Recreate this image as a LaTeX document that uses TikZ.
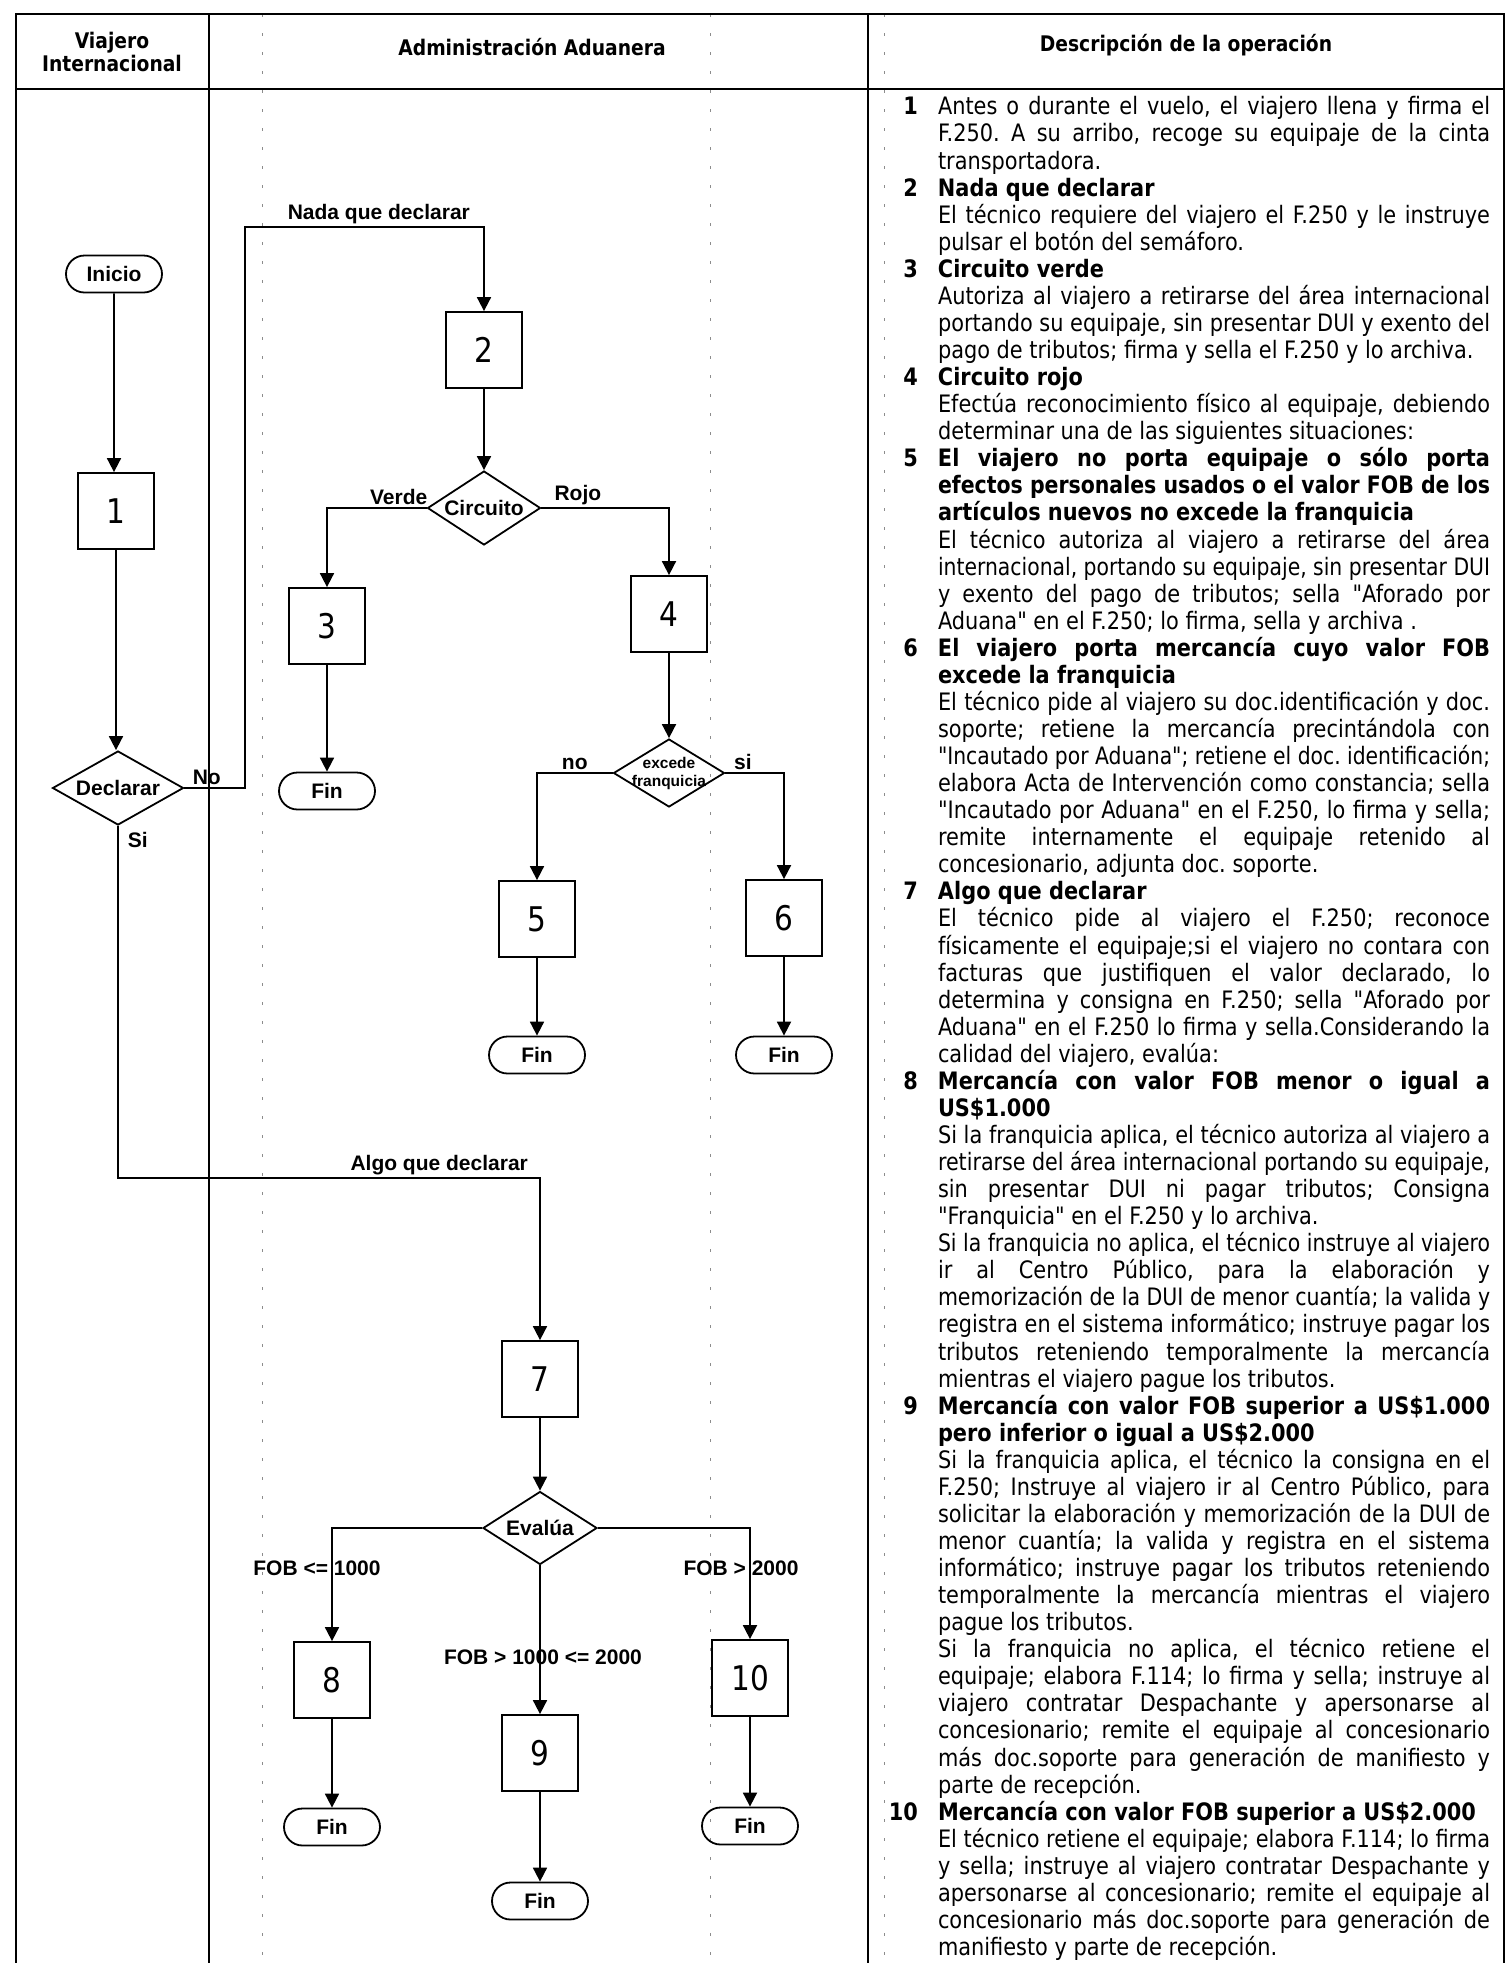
\documentclass[tikz,border=0pt]{standalone}
\usepackage{fontspec}
\setmainfont{DejaVu Sans}[FakeStretch=0.87, Ligatures=TeXOff]
\newfontfamily\arialfont{Liberation Sans}
\usepackage{graphicx}
\usetikzlibrary{positioning,shapes.geometric,shapes.misc,arrows.meta}

\newlength\descw
\setlength\descw{552pt}
\newlength\natw
\newcommand\jline[1]{\settowidth\natw{\spaceskip=0pt\xspaceskip=0pt#1}%
  \ifdim\natw>\descw\resizebox{\descw}{\height}{\spaceskip=0pt\xspaceskip=0pt\strut#1}%
  \else\makebox[\descw][s]{\spaceskip=0pt\xspaceskip=0pt\strut#1}\fi}
\newcommand\lline[1]{\makebox[\descw][l]{\spaceskip=0pt\xspaceskip=0pt\strut#1}}
\newcommand\inum[1]{\llap{\bfseries#1\hspace{20pt}}}
\newcommand\descfont{\fontsize{24}{27.05}\selectfont\frenchspacing\lineskiplimit=-\maxdimen}
\newcommand\headfont{\bfseries\fontsize{21.5}{23}\selectfont}
\newcommand\flowfont{\arialfont\bfseries\fontsize{21}{24}\selectfont}

\begin{document}
\begin{tikzpicture}[x=1pt, y=-1pt,
    marco/.style={line width=2.4pt, line cap=rect},
    guia/.style={line width=0.8pt, black!45, dash pattern=on 3pt off 16pt},
    head/.style={font=\headfont, align=center, inner sep=0pt},
    desc/.style={inner sep=0pt, outer sep=0pt, text width=\descw, align=left, font=\descfont, execute at begin node=\descfont},
    proc/.style={draw, line width=1.8pt, minimum width=76pt, minimum height=76pt, inner sep=0pt, font=\fontsize{34}{40}\selectfont},
    term/.style={draw, line width=1.8pt, rounded rectangle, minimum width=96pt, minimum height=37pt, inner sep=0pt, font=\flowfont},
    dec/.style={draw, line width=1.8pt, diamond, inner sep=0pt, align=center, font=\flowfont},
    conn/.style={line width=1.8pt, -{Triangle[length=14pt,width=14pt]}},
    lab/.style={font=\flowfont, inner sep=2pt}
]
\useasboundingbox (0,0) rectangle (1508,1963);

% lineas guia del formulario
\draw[guia] (262,14) -- (262,1963);
\draw[guia] (710,14) -- (710,1963);
\draw[guia] (884,14) -- (884,1963);

% marco de la tabla
\draw[marco] (16,14) -- (1504,14);
\draw[marco] (16,89) -- (1504,89);
\draw[marco] (16,14) -- (16,1963);
\draw[marco] (209,14) -- (209,1963);
\draw[marco] (868,14) -- (868,1963);
\draw[marco] (1504,14) -- (1504,1963);

% encabezados
\node[head] (hviaj) at (112,52) {Viajero\\Internacional};
\node[head] (hadm) at (532,47) {Administración Aduanera};
\node[head] (hdesc) at (1186,45) {Descripción de la operación};

% viajero internacional
\node[term] (ini) at (114,274) {Inicio};
\node[proc] (p1) at (116,511) {1};
\node[dec, aspect=1.77, minimum width=131pt, minimum height=74pt] (dcl) at (118,788) {Declarar};
\coordinate (nada) at (245,227);
\coordinate (algo) at (300,1178);

% nada que declarar
\node[proc] (p2) at (484,350) {2};
\node[dec, aspect=1.53, minimum width=113pt, minimum height=74pt] (circ) at (484,508) {Circuito};
\node[proc] (p3) at (327,626) {3};
\node[term] (f3) at (327,791) {Fin};
\node[proc] (p4) at (669,614) {4};
\node[dec, aspect=1.63, minimum width=111pt, minimum height=68pt, inner sep=-4pt,
  font=\arialfont\bfseries\fontsize{15.5}{18}\selectfont] (exc) at (669,773) {excede\\franquicia};
\node[proc] (p5) at (537,919) {5};
\node[term] (f5) at (537,1055) {Fin};
\node[proc] (p6) at (784,918) {6};
\node[term] (f6) at (784,1055) {Fin};

% algo que declarar
\node[proc] (p7) at (540,1379) {7};
\node[dec, aspect=1.56, minimum width=114pt, minimum height=73pt] (eva) at (540,1528) {Evalúa};
\node[proc] (p8) at (332,1680) {8};
\node[term] (f8) at (332,1827) {Fin};
\node[proc] (p9) at (540,1753) {9};
\node[term] (f9) at (540,1901) {Fin};
\node[proc] (p10) at (750,1678) {10};
\node[term] (f10) at (750,1826) {Fin};

% conectores
\draw[conn] (ini) -- (ini |- p1.north);
\draw[conn] (p1) -- (p1 |- dcl.north);
\draw[conn] (dcl.east) -| node[lab, pos=0.185, above] {No} (nada)
  -| node[lab, pos=0.28, above] {Nada que declarar} (p2.north);
\draw[conn] (dcl.south) |- node[lab, pos=0.02, anchor=west, xshift=7pt] {Si} (algo)
  -| node[lab, pos=0.29, above] {Algo que declarar} (p7.north);
\draw[conn] (p2) -- (circ);
\draw[conn] (circ.west) -| node[lab, pos=0.14, above] {Verde} (p3.north);
\draw[conn] (circ.east) -| node[lab, pos=0.143, above] {Rojo} (p4.north);
\draw[conn] (p3) -- (f3);
\draw[conn] (p4) -- (exc);
\draw[conn] (exc.west) -| node[lab, pos=0.25, above] {no} (p5.north);
\draw[conn] (exc.east) -| node[lab, pos=0.15, above] {si} (p6.north);
\draw[conn] (p5) -- (f5);
\draw[conn] (p6) -- (f6);
\draw[conn] (p7) -- (eva);
\draw[conn] (eva.west) -| node[lab, pos=0.68, xshift=-15pt] {FOB <= 1000} (p8.north);
\draw[conn] (eva.south) -- node[lab, pos=0.62, xshift=3pt] {FOB > 1000 <= 2000} (p9.north);
\draw[conn] (eva.east) -| node[lab, pos=0.68, xshift=-9pt] {FOB > 2000} (p10.north);
\draw[conn] (p8) -- (f8);
\draw[conn] (p9) -- (f9);
\draw[conn] (p10) -- (f10);

% descripcion de la operacion
\node[desc, anchor=north west] (t1) at (938,96) {%
\jline{\inum{1}Antes o durante el vuelo, el viajero llena y firma el}\\
\jline{F.250. A su arribo, recoge su equipaje de la cinta}\\
\lline{transportadora.}};
\node[desc, below=0pt of t1] (t2) {%
\lline{\inum{2}\bfseries Nada que declarar}\\
\jline{El técnico requiere del viajero el F.250 y le instruye}\\
\lline{pulsar el botón del semáforo.}};
\node[desc, below=0pt of t2] (t3) {%
\lline{\inum{3}\bfseries Circuito verde}\\
\jline{Autoriza al viajero a retirarse del área internacional}\\
\jline{portando su equipaje, sin presentar DUI y exento del}\\
\lline{pago de tributos; firma y sella el F.250 y lo archiva.}};
\node[desc, below=0pt of t3] (t4) {%
\lline{\inum{4}\bfseries Circuito rojo}\\
\jline{Efectúa reconocimiento físico al equipaje, debiendo}\\
\lline{determinar una de las siguientes situaciones:}};
\node[desc, below=0pt of t4] (t5) {%
\jline{\inum{5}\bfseries El viajero no porta equipaje o sólo porta}\\
\jline{\bfseries efectos personales usados o el valor FOB de los}\\
\lline{\bfseries artículos nuevos no excede la franquicia}\\
\jline{El técnico autoriza al viajero a retirarse del área}\\
\jline{internacional, portando su equipaje, sin presentar DUI}\\
\jline{y exento del pago de tributos; sella "Aforado por}\\
\lline{Aduana" en el F.250; lo firma, sella y archiva .}};
\node[desc, below=0pt of t5] (t6) {%
\jline{\inum{6}\bfseries El viajero porta mercancía cuyo valor FOB}\\
\lline{\bfseries excede la franquicia}\\
\jline{El técnico pide al viajero su doc.identificación y doc.}\\
\jline{soporte; retiene la mercancía precintándola con}\\
\jline{"Incautado por Aduana"; retiene el doc. identificación;}\\
\jline{elabora Acta de Intervención como constancia; sella}\\
\jline{"Incautado por Aduana" en el F.250, lo firma y sella;}\\
\jline{remite internamente el equipaje retenido al}\\
\lline{concesionario, adjunta doc. soporte.}};
\node[desc, below=0pt of t6] (t7) {%
\lline{\inum{7}\bfseries Algo que declarar}\\
\jline{El técnico pide al viajero el F.250; reconoce}\\
\jline{físicamente el equipaje;si el viajero no contara con}\\
\jline{facturas que justifiquen el valor declarado, lo}\\
\jline{determina y consigna en F.250; sella "Aforado por}\\
\jline{Aduana" en el F.250 lo firma y sella.Considerando la}\\
\lline{calidad del viajero, evalúa:}};
\node[desc, below=0pt of t7] (t8) {%
\jline{\inum{8}\bfseries Mercancía con valor FOB menor o igual a}\\
\lline{\bfseries US\$1.000}\\
\jline{Si la franquicia aplica, el técnico autoriza al viajero a}\\
\jline{retirarse del área internacional portando su equipaje,}\\
\jline{sin presentar DUI ni pagar tributos; Consigna}\\
\lline{"Franquicia" en el F.250 y lo archiva.}\\
\jline{Si la franquicia no aplica, el técnico instruye al viajero}\\
\jline{ir al Centro Público, para la elaboración y}\\
\jline{memorización de la DUI de menor cuantía; la valida y}\\
\jline{registra en el sistema informático; instruye pagar los}\\
\jline{tributos reteniendo temporalmente la mercancía}\\
\lline{mientras el viajero pague los tributos.}};
\node[desc, below=0pt of t8] (t9) {%
\jline{\inum{9}\bfseries Mercancía con valor FOB superior a US\$1.000}\\
\lline{\bfseries pero inferior o igual a US\$2.000}\\
\jline{Si la franquicia aplica, el técnico la consigna en el}\\
\jline{F.250; Instruye al viajero ir al Centro Público, para}\\
\jline{solicitar la elaboración y memorización de la DUI de}\\
\jline{menor cuantía; la valida y registra en el sistema}\\
\jline{informático; instruye pagar los tributos reteniendo}\\
\jline{temporalmente la mercancía mientras el viajero}\\
\lline{pague los tributos.}\\
\jline{Si la franquicia no aplica, el técnico retiene el}\\
\jline{equipaje; elabora F.114; lo firma y sella; instruye al}\\
\jline{viajero contratar Despachante y apersonarse al}\\
\jline{concesionario; remite el equipaje al concesionario}\\
\jline{más doc.soporte para generación de manifiesto y}\\
\lline{parte de recepción.}};
\node[desc, below=0pt of t9] (t10) {%
\lline{\inum{10}\bfseries Mercancía con valor FOB superior a US\$2.000}\\
\jline{El técnico retiene el equipaje; elabora F.114; lo firma}\\
\jline{y sella; instruye al viajero contratar Despachante y}\\
\jline{apersonarse al concesionario; remite el equipaje al}\\
\jline{concesionario más doc.soporte para generación de}\\
\lline{manifiesto y parte de recepción.}};

\end{tikzpicture}
\end{document}
